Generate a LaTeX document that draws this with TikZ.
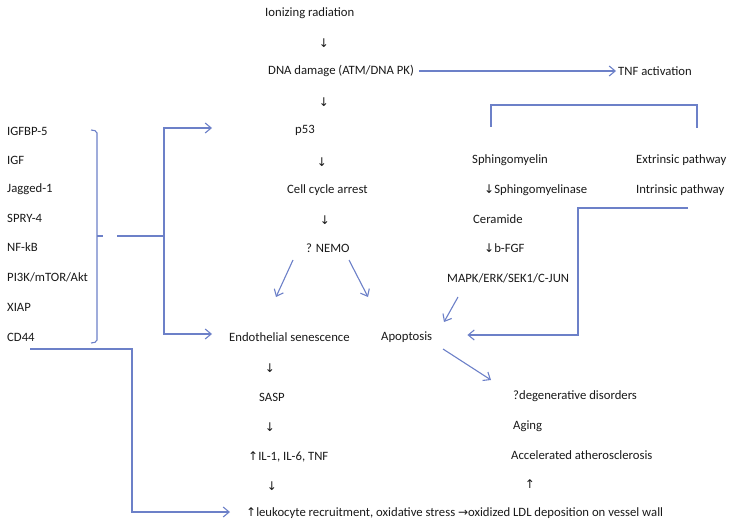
\documentclass[tikz,border=0pt]{standalone}
\usepackage{fontspec}
\setmainfont{Carlito}
\newfontfamily\arrowfont{DejaVu Sans}
\usetikzlibrary{arrows.meta}
\definecolor{linkblue}{RGB}{108,128,200}
\definecolor{txt}{RGB}{25,25,25}
\newcommand{\dnarr}{{\arrowfont\fontsize{12}{14}\selectfont ↓}}
\newcommand{\uparr}{{\arrowfont\fontsize{12}{14}\selectfont ↑}}
\newcommand{\rtarr}{{\arrowfont\fontsize{12}{14}\selectfont →}}
\tikzset{
  lbl/.style={anchor=west, inner sep=0pt, text=txt, font=\fontsize{12.7}{15}\selectfont},
  sym/.style={inner sep=0pt, text=txt},
  link/.style={draw=linkblue, line width=1.1pt, -{Straight Barb[length=6pt,width=10pt]}},
  plain/.style={draw=linkblue, line width=1.1pt}
}
\begin{document}
\begin{tikzpicture}[x=1pt,y=-1pt]
  \useasboundingbox (0,0) rectangle (737,532);
  % main column
  \node[lbl] (ion)  at (265,13)  {Ionizing radiation};
  \node[lbl] (dna)  at (268,71)  {DNA damage (ATM/DNA PK)};
  \node[lbl] (tnf)  at (618,71)  {TNF activation};
  \node[lbl] (p53)  at (295,130) {p53};
  \node[lbl] (cca)  at (287,190) {Cell cycle arrest};
  \node[lbl] (nemo) at (306,248) {? NEMO};
  \node[lbl] (endo) at (229,337) {Endothelial senescence};
  \node[lbl] (apop) at (381,337) {Apoptosis};
  \node[lbl] (sasp) at (259,397) {SASP};
  \node[lbl] (il)   at (248,457) {\uparr IL-1, IL-6, TNF};
  \node[lbl] (leuk) at (246,513) {\uparr leukocyte recruitment, oxidative stress \rtarr oxidized LDL deposition on vessel wall};
  % right column
  \node[lbl] (sph)   at (472,160) {Sphingomyelin};
  \node[lbl] (ext)   at (636,160) {Extrinsic pathway};
  \node[lbl] (sphase) at (484,190) {\dnarr Sphingomyelinase};
  \node[lbl] (intr)  at (636,190) {Intrinsic pathway};
  \node[lbl] (cer)   at (473,219) {Ceramide};
  \node[lbl] (bfgf)  at (484,248) {\dnarr b-FGF};
  \node[lbl] (mapk)  at (447,278) {MAPK/ERK/SEK1/C-JUN};
  \node[lbl] (deg)   at (513,396) {?degenerative disorders};
  \node[lbl] (aging) at (513,426) {Aging};
  \node[lbl] (accel) at (511,455) {Accelerated atherosclerosis};
  % left list
  \foreach \name/\txt/\y in {igfbp/IGFBP-5/131, igf/IGF/160, jag/Jagged-1/189,
    spry/SPRY-4/218, nfkb/NF-kB/247, pik/{PI3K/mTOR/Akt}/277, xiap/XIAP/307, cd/CD44/337}
  {   \node[lbl] (\name) at (7,\y) {\txt};
  }
  % text arrows
  \foreach \name/\x/\y in {d1/324/43, d2/324/102, d3/322/162, d4/325/220,
    d5/270/368, d6/270/427, d7/272/486}
  {   \node[sym] (\name) at (\x,\y) {\dnarr};
  }
  \node[sym] (u1) at (530,484) {\uparr};

  % free ends
  \coordinate (brace) at (117,236);
  \coordinate (p53in) at (212,128);
  \coordinate (cdout) at (30,349);

  % connectors
  \draw[link] ([shift={(5,0)}]dna.east) -- ([shift={(-2,0)}]tnf.west);
  \draw[plain, rounded corners=2pt] (91,130) -- (97,131) -- (97,342) -- (91,343);
  \draw[plain] (97,236) -- (103,236);
  \draw[plain] (brace) -- (164,236) coordinate (fork);
  \draw[link] (fork) |- (p53in);
  \draw[link] (fork) |- ([shift={(-17,-3)}]endo.west);
  \draw[link] (cdout) -| (132,430) |- ([shift={(-16,-1)}]leuk.west);
  \draw[link] ([shift={(-13,12)}]nemo.west) -- ([shift={(-30,49)}]nemo.west);
  \draw[link] ([shift={(43,12)}]nemo.west) -- ([shift={(62,49)}]nemo.west);
  \draw[link] ([shift={(11,19)}]mapk.west) -- ([shift={(-3,44)}]mapk.west);
  \draw[link] ([shift={(52,18)}]intr.west) -| (578,300) |- ([shift={(35,-2)}]apop.east);
  \draw[link] ([shift={(62,12)}]apop.west) -- ([shift={(110,43)}]apop.west);
  \draw[plain] ([shift={(19,-33)}]sph.west) |- (697,105) -- ([shift={(61,-32)}]ext.west);
\end{tikzpicture}
\end{document}
